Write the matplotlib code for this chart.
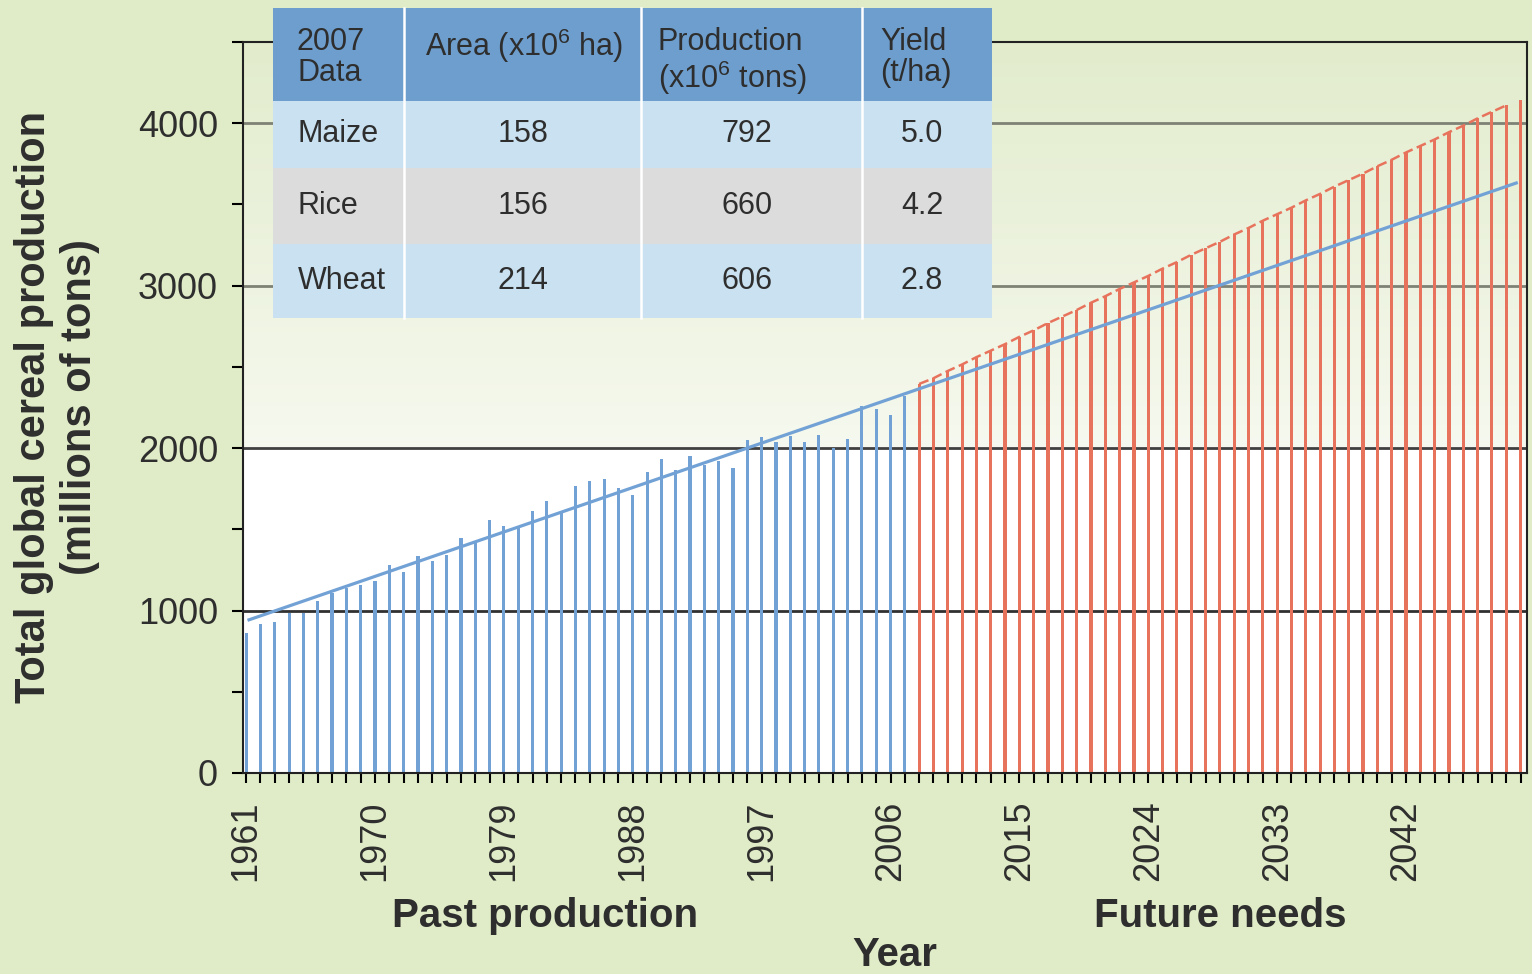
import numpy as np
import matplotlib.pyplot as plt
from matplotlib.patches import Rectangle

plt.rcParams['font.family'] = ['Liberation Sans', 'DejaVu Sans']
plt.rcParams['mathtext.fontset'] = 'custom'
plt.rcParams['mathtext.rm'] = 'Liberation Sans'

# past production 1961-2007 (millions of tons)
past_years = list(range(1961, 2008))
past_vals = [862, 916, 932, 985, 985, 1060, 1107, 1138, 1158, 1183,
             1282, 1237, 1333, 1306, 1339, 1446, 1421, 1559, 1518, 1522,
             1614, 1672, 1604, 1768, 1795, 1810, 1754, 1709, 1850, 1935,
             1867, 1949, 1898, 1922, 1877, 2052, 2068, 2035, 2076, 2037,
             2083, 2001, 2056, 2257, 2241, 2206, 2319]

# future needs 2008-2050
future_years = list(range(2008, 2051))
future_vals = [2395, 2430, 2475, 2515, 2560, 2600, 2640, 2685, 2725, 2770,
               2810, 2850, 2895, 2935, 2980, 3020, 3060, 3105, 3145, 3190,
               3230, 3270, 3315, 3355, 3400, 3440, 3480, 3525, 3565, 3610,
               3650, 3690, 3735, 3775, 3820, 3860, 3900, 3945, 3985, 4030,
               4070, 4110, 4145]

# linear trend of past production
trend_years = [1961.2, 2049.7]
trend_vals = [943, 3632]

label_years = [1961, 1970, 1979, 1988, 1997, 2006, 2015, 2024, 2033, 2042]

# 2007 table
tbl_header = ['2007\nData', 'Area (x10$^{6}$ ha)', 'Production\n(x10$^{6}$ tons)', 'Yield\n(t/ha)']
crops = ['Maize', 'Rice', 'Wheat']
area = ['158', '156', '214']
production = ['792', '660', '606']
yield_tha = ['5.0', '4.2', '2.8']

GREEN = '#e0ecc7'
BLUE = '#72a2d5'
RED = '#e8735d'
TXT = '#2e2e2e'

fig = plt.figure(figsize=(15.32, 9.74), dpi=100, facecolor=GREEN)
ax = fig.add_axes([243 / 1532, 1 - 773 / 974, (1527 - 243) / 1532, (773 - 42) / 974])

# background gradient inside the plot
n = 400
yy = np.linspace(4500, 0, n)
t = np.clip((yy - 2000) / 2500, 0, 1)
top = np.array([0.886, 0.925, 0.800])
mid = np.array([0.965, 0.976, 0.937])
white = np.array([1.0, 1.0, 1.0])
col = np.where((yy >= 2000)[:, None], mid + (top - mid) * t[:, None], white)
grad = np.repeat(col[:, None, :], 2, axis=1)
ax.imshow(grad, extent=[0, 1, 0, 1], transform=ax.transAxes, aspect='auto', zorder=0)

for gy, gc in zip([1000, 2000, 3000, 4000], ['#303030', '#404040', '#7d8275', '#7d8275']):
    ax.axhline(gy, color=gc, lw=2, zorder=1)

ax.bar(past_years, past_vals, width=0.22, color=BLUE, zorder=2)
ax.bar(future_years, future_vals, width=0.22, color=RED, zorder=2)
ax.plot(future_years[:-1], future_vals[:-1], color=RED, lw=1.8, ls=(0, (4, 1.8)), zorder=3)
ax.plot(trend_years, trend_vals, color=BLUE, lw=2.3, zorder=4)

ax.set_xlim(1960.78, 2050.45)
ax.set_ylim(0, 4500)

all_years = list(range(1961, 2051))
ax.set_xticks(all_years)
ax.set_xticklabels([str(y) if y in label_years else '' for y in all_years],
                   rotation=90, fontsize=26, color=TXT)
yt = list(range(0, 4501, 500))
ax.set_yticks(yt)
ax.set_yticklabels([str(v) if v % 1000 == 0 and v < 4500 else '' for v in yt],
                   fontsize=26, color=TXT)
ax.tick_params(axis='x', direction='out', length=7, width=1.5, pad=13)
ax.tick_params(axis='y', direction='out', length=8, width=1.5, pad=10)
for s in ax.spines.values():
    s.set_color('#222222')
    s.set_linewidth(1.5)

fig.text(57 / 1532, 1 - 407 / 974, 'Total global cereal production\n(millions of tons)',
         rotation=90, ha='center', va='center', fontsize=30, fontweight='bold',
         color=TXT, linespacing=1.2, multialignment='center')
fig.text(545 / 1532, 1 - 916 / 974, 'Past production', ha='center', va='center',
         fontsize=29, fontweight='bold', color=TXT)
fig.text(1220 / 1532, 1 - 916 / 974, 'Future needs', ha='center', va='center',
         fontsize=29, fontweight='bold', color=TXT)
fig.text(895 / 1532, 1 - 955 / 974, 'Year', ha='center', va='center',
         fontsize=29, fontweight='bold', color=TXT)

# table overlay drawn in pixel coordinates
ov = fig.add_axes([0, 0, 1, 1], zorder=5)
ov.set_xlim(0, 1532)
ov.set_ylim(974, 0)
ov.axis('off')
ov.patch.set_alpha(0)

xs = [273, 404, 641, 862, 992]
ys = [8, 101, 168, 244, 318]
row_colors = ['#6e9ecd', '#c9e1f0', '#dcdcdd', '#c9e1f0']
for i, rc in enumerate(row_colors):
    ov.add_patch(Rectangle((xs[0], ys[i]), xs[-1] - xs[0], ys[i + 1] - ys[i], color=rc, lw=0))
for x in xs[1:-1]:
    ov.plot([x, x], [ys[0], ys[-1]], color='white', lw=1.8)

hx = [297, 425, 658, 880]
for x, h in zip(hx, tbl_header):
    ov.text(x, 27, h, ha='left', va='top', fontsize=22, color=TXT, linespacing=1.05)

for i in range(3):
    yc = (ys[i + 1] + ys[i + 2]) / 2
    ov.text(298, yc, crops[i], ha='left', va='center', fontsize=22, color=TXT)
    ov.text(523, yc, area[i], ha='center', va='center', fontsize=22, color=TXT)
    ov.text(747, yc, production[i], ha='center', va='center', fontsize=22, color=TXT)
    ov.text(922, yc, yield_tha[i], ha='center', va='center', fontsize=22, color=TXT)

fig.savefig('out.png', dpi=100, facecolor=GREEN)
